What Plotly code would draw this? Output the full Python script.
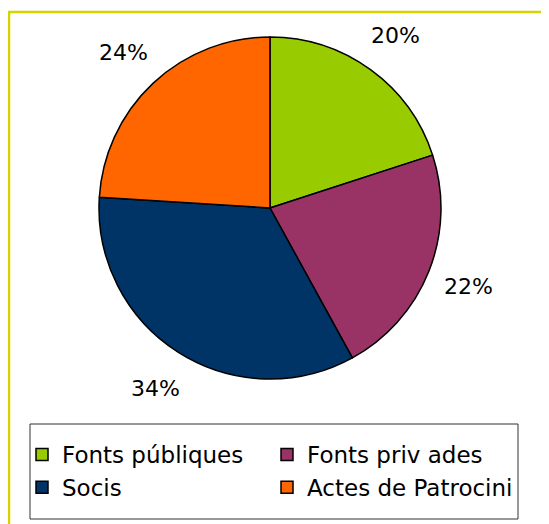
import math
import plotly.graph_objects as go

categories = ["Fonts públiques", "Fonts priv ades", "Socis", "Actes de Patrocini"]
values = [20, 22, 34, 24]
colors = ["#99CC00", "#993366", "#003366", "#FF6600"]

W, H = 549, 524
FONT = "DejaVu Sans"
OFF = 8  # page body margin in the browser

# pie geometry (pixels, page coordinates)
CX, CY, R = 270 - OFF, 208 - OFF, 171
LABEL_R = 1.25 * R

fig = go.Figure(
    go.Pie(
        labels=categories,
        values=values,
        sort=False,
        direction="clockwise",
        rotation=0,
        marker=dict(colors=colors, line=dict(color="black", width=1.5)),
        textinfo="none",
        hoverinfo="label+percent",
        domain=dict(x=[(CX - R) / W, (CX + R) / W],
                    y=[(H - CY - R) / H, (H - CY + R) / H]),
    )
)

# percentage labels placed outside each slice, from the data
total = sum(values)
annotations = []
cum = 0
for v in values:
    mid = (cum + v / 2) / total * 2 * math.pi
    cum += v
    px = CX + LABEL_R * math.sin(mid)
    py = CY - LABEL_R * math.cos(mid)
    annotations.append(dict(
        x=px / W, y=(H - py) / H, xref="paper", yref="paper",
        text=f"{round(v / total * 100)}%", showarrow=False,
        xanchor="center", yanchor="middle",
        font=dict(family=FONT, size=22, color="black"),
    ))

def px_x(p):
    return (p - OFF) / W

def px_y(p):
    return (H - (p - OFF)) / H

fig.update_layout(
    width=W,
    height=H,
    margin=dict(l=0, r=0, t=0, b=0, autoexpand=False),
    paper_bgcolor="white",
    plot_bgcolor="white",
    font=dict(family=FONT, size=22, color="black"),
    showlegend=True,
    annotations=annotations,
    legend=dict(
        orientation="h",
        x=px_x(22),
        y=px_y(471),
        xanchor="left",
        yanchor="middle",
        entrywidth=200,
        entrywidthmode="pixels",
        borderwidth=0,
        bgcolor="rgba(0,0,0,0)",
        font=dict(family=FONT, size=23, color="black"),
        traceorder="normal",
    ),
    shapes=[
        # outer chart frame
        dict(
            type="rect", xref="paper", yref="paper",
            x0=1 / W, x1=1.05, y0=-0.05, y1=px_y(12),
            line=dict(color="#D4D400", width=2.5),
            fillcolor="rgba(0,0,0,0)", layer="below",
        ),
        # legend box
        dict(
            type="rect", xref="paper", yref="paper",
            x0=px_x(30), x1=px_x(518), y0=px_y(519), y1=px_y(424),
            line=dict(color="#333333", width=1),
            fillcolor="white", layer="below",
        ),
    ],
)

fig.write_html("out.html")
